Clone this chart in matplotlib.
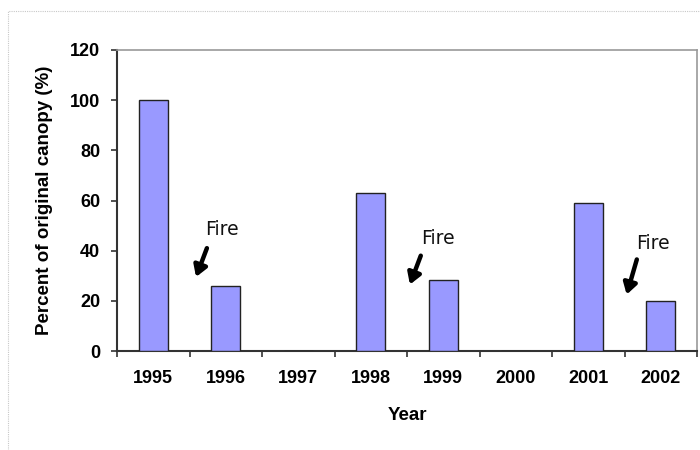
import matplotlib.pyplot as plt
import matplotlib.patches as mpatches
import numpy as np

years = ['1995', '1996', '1997', '1998', '1999', '2000', '2001', '2002']
canopy = [100, 26, 0, 63, 28.5, 0, 59, 20]

# Fire annotations: (label x, label y, arrow tail x, tail y, head x, head y)
fire_notes = [
    (0.95, 48.5, 0.74, 41.0, 0.59, 29.5),
    (3.93, 45.0, 3.69, 38.0, 3.54, 26.5),
    (6.89, 43.0, 6.67, 36.5, 6.53, 22.5),
]

plt.rcParams['font.family'] = ['Liberation Sans', 'DejaVu Sans']

fig = plt.figure(figsize=(7, 4.5), dpi=100)
ax = fig.add_axes([117 / 700, 99 / 450, 580 / 700, 301 / 450])

# light dotted frame around the whole chart, like the source screenshot
fig.patches.append(mpatches.Rectangle((8 / 700, -0.05), 1.2, 1 - 11 / 450 + 0.05,
                                      transform=fig.transFigure, fill=False,
                                      ec='#c8c8c8', lw=0.8, ls=(0, (1, 1))))

x = np.arange(len(years))
ax.bar(x, canopy, width=0.4, color='#9999ff', edgecolor='#222222', linewidth=1.0,
       zorder=3)

for tx, ty, x0, y0, x1, y1 in fire_notes:
    ax.text(tx, ty, 'Fire', family='DejaVu Sans', fontsize=13.5, ha='center',
            va='center', color='#111111')
    ax.annotate('', xy=(x1, y1), xytext=(x0, y0),
                arrowprops=dict(arrowstyle='-|>,head_length=0.65,head_width=0.4',
                                color='black', lw=3.2, shrinkA=0, shrinkB=0))

ax.set_xlim(-0.5, len(years) - 0.5)
ax.set_ylim(0, 120)
ax.set_yticks(range(0, 121, 20))
ax.set_yticklabels([str(v) for v in range(0, 121, 20)], fontsize=13,
                   fontweight='bold')
ax.set_xticks(x)
ax.set_xticklabels(years, fontsize=13, fontweight='bold')
ax.set_xticks(np.arange(-0.5, len(years), 1.0), minor=True)
ax.tick_params(axis='x', which='major', length=0, pad=14)
ax.tick_params(axis='x', which='minor', length=4, width=1.2, direction='out',
               color='#333333')
ax.tick_params(axis='y', length=4, width=1.2, direction='out', color='#333333',
               pad=8)

ax.set_xlabel('Year', fontsize=13.5, fontweight='bold', labelpad=14)
ax.set_ylabel('Percent of original canopy (%)', fontsize=13.5, fontweight='bold',
              labelpad=12)

for s in ['left', 'bottom']:
    ax.spines[s].set_color('#333333')
    ax.spines[s].set_linewidth(1.5)
for s in ['top', 'right']:
    ax.spines[s].set_color('#999999')
    ax.spines[s].set_linewidth(1.2)

fig.savefig('out.png', dpi=100)
